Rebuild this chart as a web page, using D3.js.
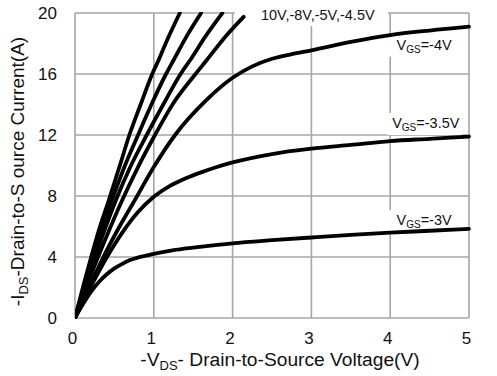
<!DOCTYPE html>
<html><head><meta charset="utf-8">
<script src="https://cdn.jsdelivr.net/npm/d3@7"></script>
<style>body{margin:0;background:#fff}svg{display:block}</style>
</head><body><svg id="c" width="497" height="376"></svg>
<script>
// ---- data (Vds [V], Ids [A]) ----
const xTicks = [0, 1, 2, 3, 4, 5];
const yTicks = [0, 4, 8, 12, 16, 20];
const vgs10  = [[0,0],[0.1,2.0],[0.2,3.9],[0.3,5.7],[0.43,7.74],[0.56,9.85],[0.69,12],[0.84,14.1],[0.98,16],[1.06,16.9],[1.15,18],[1.33,20]];
const vgs8   = [[0,0],[0.1,1.8],[0.2,3.55],[0.3,5.2],[0.47,7.74],[0.63,9.95],[0.8,12],[0.97,14.0],[1.155,16],[1.25,16.9],[1.42,18.5],[1.6,20]];
const vgs5   = [[0,0],[0.1,1.65],[0.2,3.2],[0.35,5.4],[0.52,7.74],[0.71,10.0],[0.91,12],[1.12,14.0],[1.34,16],[1.46,16.9],[1.66,18.5],[1.87,20]];
const vgs45  = [[0,0],[0.1,1.45],[0.2,2.8],[0.4,5.35],[0.6,7.74],[0.8,9.9],[1.015,12],[1.25,14.1],[1.53,16],[1.67,16.9],[1.9,18.4],[2.14,19.75]];
const vgs4   = [[0,0],[0.2,2.25],[0.36,4],[0.56,5.95],[0.76,7.74],[1.0,9.9],[1.27,12],[1.67,14.3],[2.0,15.75],[2.25,16.5],[2.5,17.0],[2.75,17.3],[3,17.55],[3.5,18.1],[4,18.55],[4.5,18.85],[5,19.1]];
const vgs35  = [[0,0],[0.2,2.05],[0.4,3.95],[0.6,5.6],[0.8,6.95],[1.0,7.95],[1.2,8.65],[1.4,9.15],[1.6,9.55],[1.8,9.9],[2.0,10.2],[2.5,10.75],[3,11.1],[3.5,11.35],[4,11.6],[4.5,11.75],[5,11.9]];
const vgs3   = [[0,0],[0.1,0.9],[0.2,1.7],[0.3,2.35],[0.4,2.85],[0.5,3.25],[0.6,3.55],[0.7,3.8],[0.8,3.97],[1,4.2],[1.25,4.45],[1.5,4.62],[2,4.9],[2.5,5.1],[3,5.28],[3.5,5.45],[4,5.6],[4.5,5.72],[5,5.85]];
const series = [vgs10, vgs8, vgs5, vgs45, vgs4, vgs35, vgs3];
const topLabel = "10V,-8V,-5V,-4.5V";
const vgsLabels = ["-4V", "-3.5V", "-3V"];

const FONT = '"Liberation Sans", Arial, Helvetica, sans-serif';
const svg = d3.select('#c').style('font-family', FONT);
const x = d3.scaleLinear().domain([0, 5]).range([75, 469]);
const y = d3.scaleLinear().domain([0, 20]).range([318, 13]);
const GRID = '#a6a6a6';

// grid + frame
const g = svg.append('g');
g.selectAll('.vx').data(xTicks).join('line')
  .attr('x1', d => x(d)).attr('x2', d => x(d)).attr('y1', y(0)).attr('y2', y(20))
  .attr('stroke', GRID).attr('stroke-width', 1.6);
g.selectAll('.hy').data(yTicks).join('line')
  .attr('y1', d => y(d)).attr('y2', d => y(d)).attr('x1', x(0)).attr('x2', x(5))
  .attr('stroke', GRID).attr('stroke-width', 1.6);

// axes tick labels
const xAxis = d3.axisBottom(x).tickValues(xTicks).tickSize(0).tickPadding(14).tickFormat(d3.format('d'));
const yAxis = d3.axisLeft(y).tickValues(yTicks).tickSize(0).tickPadding(18).tickFormat(d3.format('d'));
const ax = svg.append('g').attr('transform', `translate(-3,${y(0)})`).call(xAxis);
const ay = svg.append('g').attr('transform', `translate(${x(0)},0)`).call(yAxis);
[ax, ay].forEach(a => {
  a.select('.domain').remove();
  a.selectAll('text').attr('font-family', FONT).attr('font-size', 17).attr('fill', '#111');
});

// label boxes and texts
function addLabel(px, py, parts, padL, padR, padT, padB) {
  const t = svg.append('text').attr('x', px).attr('y', py).attr('font-size', 14.5).attr('fill', '#111');
  parts.forEach(p => {
    const ts = t.append('tspan').text(p.t);
    if (p.sub) ts.attr('font-size', 10).attr('dy', 3);
    if (p.up) ts.attr('dy', -3);
  });
  const b = t.node().getBBox();
  svg.insert('rect', () => t.node())
    .attr('x', b.x - padL).attr('y', b.y - padT)
    .attr('width', b.width + padL + padR).attr('height', b.height + padT + padB)
    .attr('fill', '#fff');
}
addLabel(x(2.36), 20, [{t: topLabel}], 26, 13, 12, 3);
addLabel(x(4.08), y(17.6), [{t:'V'},{t:'GS',sub:true},{t:'='+vgsLabels[0],up:true}], 8, 2, 2, 2);
addLabel(x(4.025), y(12.46), [{t:'V'},{t:'GS',sub:true},{t:'='+vgsLabels[1],up:true}], 5, 2, 2, 2);
addLabel(x(4.08), y(6.1), [{t:'V'},{t:'GS',sub:true},{t:'='+vgsLabels[2],up:true}], 8, 2, 2, 3);

// curves
svg.append('clipPath').attr('id', 'pc').append('rect')
  .attr('x', x(0)).attr('y', y(20) - 1).attr('width', x(5) - x(0) + 2).attr('height', y(0) - y(20) + 2);
const line = d3.line().x(d => x(d[0])).y(d => y(d[1])).curve(d3.curveMonotoneX);
svg.append('g').attr('clip-path', 'url(#pc)').selectAll('path').data(series).join('path')
  .attr('d', line).attr('fill', 'none').attr('stroke', '#000').attr('stroke-width', 3.8)
  .attr('stroke-linecap', 'round');

// axis titles
const xt = svg.append('text').attr('x', 280).attr('y', 366).attr('text-anchor', 'middle')
  .attr('font-size', 19.2).attr('fill', '#111');
xt.append('tspan').text('-V');
xt.append('tspan').text('DS').attr('font-size', 13).attr('dy', 4);
xt.append('tspan').text('- Drain-to-Source Voltage(V)').attr('dy', -4);

const yt = svg.append('text').attr('transform', `translate(24,${(y(0)+y(20))/2 + 6}) rotate(-90)`)
  .attr('text-anchor', 'middle').attr('font-size', 19).attr('fill', '#111');
yt.append('tspan').text('-I');
yt.append('tspan').text('DS').attr('font-size', 13).attr('dy', 4);
yt.append('tspan').text('-Drain-to-S ource Current(A)').attr('dy', -4);
</script>
</body></html>
